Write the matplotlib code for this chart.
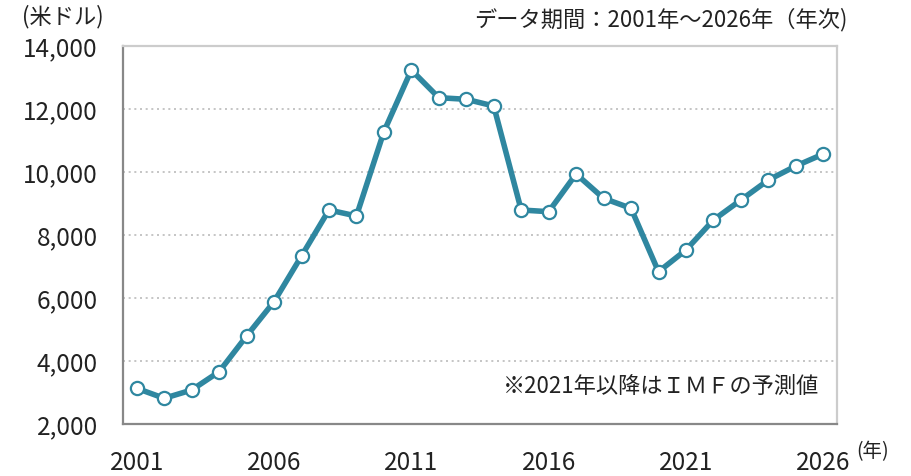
import matplotlib
matplotlib.use("Agg")
import matplotlib.pyplot as plt

plt.rcParams['font.family'] = ['Noto Sans CJK JP', 'DejaVu Sans']

years = list(range(2001, 2027))
values = [3133, 2816, 3079, 3660, 4794, 5883, 7333, 8794, 8603, 11279,
          13238, 12359, 12308, 12095, 8794, 8740, 9937, 9165, 8847, 6835,
          7524, 8476, 9111, 9746, 10190, 10571]
xticks = [2001, 2006, 2011, 2016, 2021, 2026]
yticks = [2000, 4000, 6000, 8000, 10000, 12000, 14000]

line_color = '#2F87A0'
text_color = '#222222'

fig = plt.figure(figsize=(9.11, 4.76), dpi=100)
ax = fig.add_axes([123/911, 1-424/476, (837-123)/911, (424-46)/476])

ax.plot(years, values, color=line_color, lw=4.0, marker='o', ms=9.5,
        mfc='white', mec=line_color, mew=1.6, zorder=3, solid_joinstyle='round')

ax.set_xlim(2000.5, 2026.5)
ax.set_ylim(2000, 14000)
ax.set_xticks(xticks)
ax.set_xticklabels([str(x) for x in xticks])
ax.set_yticks(yticks)
ax.set_yticklabels([f"{v:,}" for v in yticks])
ax.tick_params(axis='both', length=0, labelsize=17.5, colors=text_color)
ax.tick_params(axis='x', pad=19)
ax.tick_params(axis='y', pad=18)

for v in yticks[1:-1]:
    ax.axhline(v, color='#bbbbbb', lw=1.2, ls=(0, (1.2, 2.2)), zorder=1)

ax.spines['left'].set_color('#888888')
ax.spines['bottom'].set_color('#888888')
ax.spines['left'].set_linewidth(1.6)
ax.spines['bottom'].set_linewidth(1.6)
ax.spines['top'].set_color('#cccccc')
ax.spines['right'].set_color('#cccccc')
ax.spines['top'].set_linewidth(1.6)
ax.spines['right'].set_linewidth(1.6)

fig.text(22/911, 1-17/476, '(米ドル)', fontsize=16, color=text_color, ha='left', va='center')
fig.text(848/911, 1-20/476, 'データ期間：2001年～2026年（年次)', fontsize=16,
         color=text_color, ha='right', va='center')
fig.text(856/911, 1-452/476, '(年)', fontsize=14, color=text_color, ha='left', va='center')
ax.text(0.975, 0.1, '※2021年以降はＩＭＦの予測値', transform=ax.transAxes,
        fontsize=16, color=text_color, ha='right', va='center')

fig.savefig('out.png', dpi=100)
